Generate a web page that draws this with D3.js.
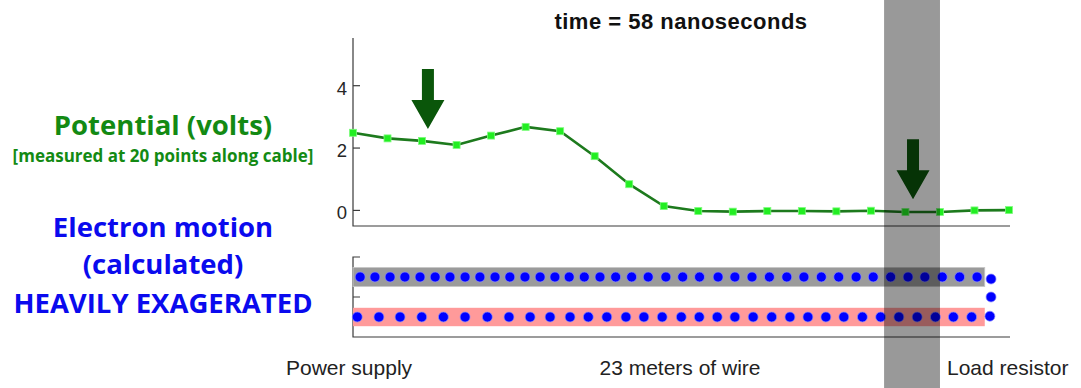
<!DOCTYPE html>
<html>
<head>
<meta charset="utf-8">
<script src="https://cdn.jsdelivr.net/npm/d3@7"></script>
<style>
  html, body { margin: 0; padding: 0; background: #fff; }
  svg { display: block; }
</style>
</head>
<body>
<div id="chart"></div>
<script>
// measurement points along the cable (index 1..20) and potential in volts
const pointIndex = d3.range(1, 21);
const potential = [2.49, 2.31, 2.23, 2.10, 2.40, 2.68, 2.54, 1.74, 0.84, 0.14,
                   -0.02, -0.04, -0.02, -0.02, -0.03, -0.01, -0.05, -0.05, 0.00, 0.01];
const voltTicks = [0, 2, 4];

// arrows: position (point index) and tip value (volts)
const arrowX = [3.17, 17.22];
const arrowTip = [2.61, 0.36];

// electron positions along the wire (meters)
const topRow = [0.25, 0.77, 1.30, 1.82, 2.35, 2.88, 3.40, 3.93, 4.45, 4.98, 5.50, 6.03, 6.56,
                7.08, 7.58, 8.11, 8.66, 9.21, 9.77, 10.35, 10.97, 11.56, 12.15, 12.80, 13.39,
                13.99, 14.60, 15.21, 15.81, 16.42, 17.03, 17.64, 18.24, 18.85, 19.46, 20.05,
                20.66, 21.27, 21.88];
const bottomRow = [0.15, 0.91, 1.65, 2.41, 3.17, 3.93, 4.71, 5.47, 6.21, 6.91, 7.61, 8.25,
                   8.90, 9.57, 10.20, 10.84, 11.51, 12.14, 12.77, 13.39, 14.03, 14.68, 15.32,
                   15.95, 16.58, 17.21, 17.86, 18.50, 19.14, 19.78, 20.42, 21.05, 21.69];
const endColumnX = [22.37, 22.37, 22.33];
const endColumnY = [0.45, 0.0, -0.48];
const bandEnd = 22.15;        // meters
const wireLength = 23;        // meters
const cursor = [18.62, 20.58]; // shaded region, meters

const W = 1081, H = 388;
const svg = d3.select("#chart").append("svg")
    .attr("width", W).attr("height", H);

const x0 = 353, x1 = 1009;
const x = d3.scaleLinear().domain([1, 20]).range([x0, x1]);
const xm = d3.scaleLinear().domain([0, wireLength]).range([x0, x1]);
const y = d3.scaleLinear().domain([-0.5, 5.53]).range([226, 38]);
const ye = d3.scaleLinear().domain([-1, 1]).range([337, 257]);

const axisColor = "#3a3a3a";

// ---- top panel: potential
const voltPanel = svg.append("g");
voltPanel.append("path")
    .attr("d", `M${x0},${y(5.53)}V${y(-0.5)}H${x1 + 1}`)
    .attr("fill", "none").attr("stroke", axisColor).attr("stroke-width", 1.2);

voltPanel.selectAll(".vtick").data(voltTicks).enter().append("line")
    .attr("x1", x0).attr("x2", x0 + 7)
    .attr("y1", d => y(d)).attr("y2", d => y(d))
    .attr("stroke", axisColor).attr("stroke-width", 1.2);

voltPanel.selectAll(".vlabel").data(voltTicks).enter().append("text")
    .attr("x", x0 - 6).attr("y", d => y(d) + 9)
    .attr("text-anchor", "end")
    .attr("font-family", "Liberation Sans, Arial, sans-serif")
    .attr("font-size", 18.5).attr("fill", "#262626")
    .text(d => d);

const pts = pointIndex.map((d, i) => ({ i: d, v: potential[i] }));
voltPanel.append("path")
    .datum(pts)
    .attr("fill", "none").attr("stroke", "#1d7a1d").attr("stroke-width", 2.6)
    .attr("d", d3.line().x(d => x(d.i)).y(d => y(d.v)));

voltPanel.selectAll(".pt").data(pts).enter().append("rect")
    .attr("x", d => x(d.i) - 3.5).attr("y", d => y(d.v) - 3.5)
    .attr("width", 7).attr("height", 7)
    .attr("fill", "#22ee22").attr("stroke", "#7dfc7d").attr("stroke-width", 0.8);

// arrows
voltPanel.selectAll(".arrow").data(arrowX).enter().append("path")
    .attr("transform", (d, i) => `translate(${x(d)},${y(arrowTip[i])})`)
    .attr("d", "M0,0L-16.5,-29L-6,-29L-6,-60L6,-60L6,-29L16.5,-29Z")
    .attr("fill", "#0a560a");

// title
svg.append("text")
    .attr("x", 681).attr("y", 29)
    .attr("text-anchor", "middle")
    .attr("font-family", "Liberation Sans, Arial, sans-serif")
    .attr("font-weight", "bold").attr("font-size", 22)
    .attr("letter-spacing", 0.5)
    .attr("fill", "#111")
    .text("time = 58 nanoseconds");

// ---- bottom panel: electron motion
const wirePanel = svg.append("g");
wirePanel.append("path")
    .attr("d", `M${x0 + 7},${ye(1)}H${x0}V${ye(-1)}H${x1 + 1}M${x0},${ye(0)}H${x0 + 7}`)
    .attr("fill", "none").attr("stroke", axisColor).attr("stroke-width", 1.2);

wirePanel.append("rect")
    .attr("x", xm(0)).attr("width", xm(bandEnd) - xm(0))
    .attr("y", ye(0.74)).attr("height", ye(0.26) - ye(0.74))
    .attr("fill", "#9b9b9b").attr("stroke", "#c8c8c8").attr("stroke-width", 0.8);
wirePanel.append("rect")
    .attr("x", xm(0)).attr("width", xm(bandEnd) - xm(0))
    .attr("y", ye(-0.27)).attr("height", ye(-0.73) - ye(-0.27))
    .attr("fill", "#ff9a9a");

const dots = topRow.map(m => ({ m, v: 0.5 }))
    .concat(bottomRow.map(m => ({ m, v: -0.5 })))
    .concat(endColumnX.map((m, i) => ({ m, v: endColumnY[i] })));

wirePanel.selectAll(".e").data(dots).enter().append("circle")
    .attr("cx", d => xm(d.m)).attr("cy", d => ye(d.v))
    .attr("r", 5)
    .attr("fill", "#0000ff").attr("stroke", "#8c8cff").attr("stroke-width", 0.7);

// shaded cursor across the whole figure
svg.append("rect")
    .attr("x", xm(cursor[0])).attr("width", xm(cursor[1]) - xm(cursor[0]))
    .attr("y", 0).attr("height", H)
    .attr("fill", "#000").attr("fill-opacity", 0.4);

// ---- left labels
const lab = svg.append("g")
    .attr("font-family", "Open Sans, sans-serif").attr("font-weight", "bold")
    .attr("text-anchor", "middle");
lab.append("text").attr("x", 163).attr("y", 135).attr("font-size", 27.5)
    .attr("fill", "#138a13").text("Potential (volts)");
lab.append("text").attr("x", 163).attr("y", 162).attr("font-size", 17)
    .attr("fill", "#138a13").text("[measured at 20 points along cable]");
lab.append("text").attr("x", 163).attr("y", 237).attr("font-size", 27.5)
    .attr("fill", "#0a0aee").text("Electron motion");
lab.append("text").attr("x", 163).attr("y", 274).attr("font-size", 27.5)
    .attr("fill", "#0a0aee").text("(calculated)");
lab.append("text").attr("x", 163).attr("y", 313).attr("font-size", 27.5)
    .attr("fill", "#0a0aee").text("HEAVILY EXAGERATED");

// ---- bottom labels
const bl = svg.append("g")
    .attr("font-family", "Liberation Sans, Arial, sans-serif")
    .attr("font-size", 21).attr("fill", "#222");
bl.append("text").attr("x", 286).attr("y", 375).text("Power supply");
bl.append("text").attr("x", 680).attr("y", 375).attr("text-anchor", "middle").text("23 meters of wire");
bl.append("text").attr("x", 947).attr("y", 375).text("Load resistor");
</script>
</body>
</html>
